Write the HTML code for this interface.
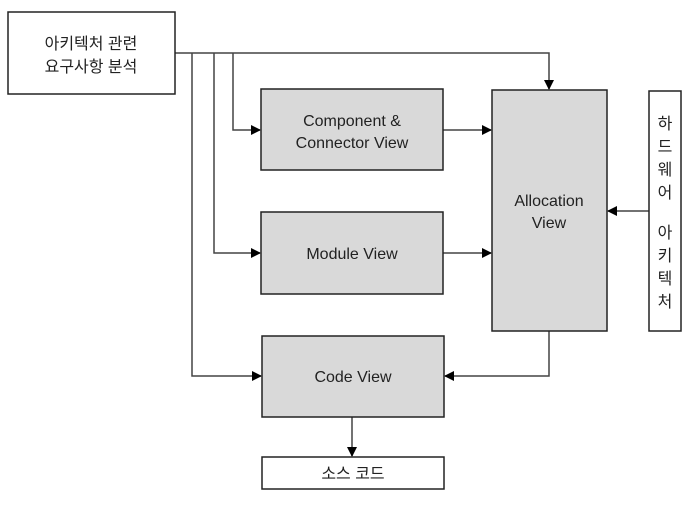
<!DOCTYPE html>
<html><head><meta charset="utf-8"><style>
html,body{margin:0;padding:0;background:#fff;}
svg text{font-family:"Liberation Sans","Noto Sans CJK KR",sans-serif;fill:#222;}
</style></head><body>
<svg width="693" height="503" viewBox="0 0 693 503" xmlns="http://www.w3.org/2000/svg">
<defs><marker id="a" markerWidth="10" markerHeight="10" refX="9" refY="5" orient="auto" markerUnits="userSpaceOnUse"><path d="M0,0 L10,5 L0,10 z" fill="#000"/></marker></defs>
<g fill="none" stroke="#444" stroke-width="1.5">
<path d="M175,53 H549 V89" marker-end="url(#a)"/>
<path d="M233,53 V130 H260" marker-end="url(#a)"/>
<path d="M214,53 V253 H260" marker-end="url(#a)"/>
<path d="M192,53 V376 H261" marker-end="url(#a)"/>
<path d="M443,130 H491" marker-end="url(#a)"/>
<path d="M443,253 H491" marker-end="url(#a)"/>
<path d="M649,211 H608" marker-end="url(#a)"/>
<path d="M549,331 V376 H445" marker-end="url(#a)"/>
<path d="M352,417 V456" marker-end="url(#a)"/>
</g>
<g stroke="#222" stroke-width="1.5">
<rect x="8" y="12" width="167" height="82" fill="#fff"/>
<rect x="261" y="89" width="182" height="81" fill="#d9d9d9"/>
<rect x="261" y="212" width="182" height="82" fill="#d9d9d9"/>
<rect x="262" y="336" width="182" height="81" fill="#d9d9d9"/>
<rect x="492" y="90" width="115" height="241" fill="#d9d9d9"/>
<rect x="649" y="91" width="32" height="240" fill="#fff"/>
<rect x="262" y="457" width="182" height="32" fill="#fff"/>
</g>
<g font-size="16" text-anchor="middle">
<text x="91" y="49">아키텍처 관련</text>
<text x="91" y="72">요구사항 분석</text>
<text x="352" y="126">Component &amp;</text>
<text x="352" y="148">Connector View</text>
<text x="352" y="259">Module View</text>
<text x="353" y="382">Code View</text>
<text x="549" y="206">Allocation</text>
<text x="549" y="228">View</text>
<text x="353" y="479">소스 코드</text>
<text x="665" y="129">하</text>
<text x="665" y="152">드</text>
<text x="665" y="175">웨</text>
<text x="665" y="198">어</text>
<text x="665" y="238">아</text>
<text x="665" y="261">키</text>
<text x="665" y="284">텍</text>
<text x="665" y="307">처</text>
</g>
</svg>
</body></html>
